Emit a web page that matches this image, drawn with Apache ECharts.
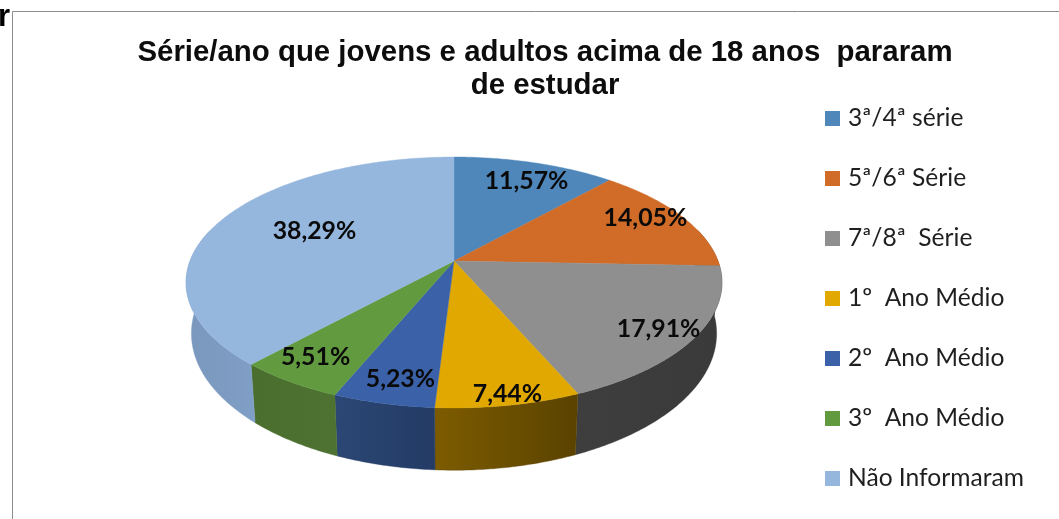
<!DOCTYPE html>
<html>
<head>
<meta charset="utf-8">
<style>html,body{margin:0;padding:0;background:#fff}#c{width:1059px;height:519px}</style>
<script src="https://cdn.jsdelivr.net/npm/echarts@6/dist/echarts.min.js"></script>
</head>
<body>
<div id="c"></div>
<script>
// ---- data ----
const categories = ['3ª/4ª série','5ª/6ª Série','7ª/8ª  Série','1º  Ano Médio','2º  Ano Médio','3º  Ano Médio','Não Informaram'];
const values = [11.57,14.05,17.91,7.44,5.23,5.51,38.29];
const titleLines = ['Série/ano que jovens e adultos acima de 18 anos  pararam','de estudar'];

// ---- styles ----
const topColors = ['#4f87ba','#d06c28','#8f8f8f','#e0a800','#3b62a8','#629a3f','#95b7de'];
const sideStart = ['#2f5170','#7d4118','#3e3e3e','#7d5c00','#2c4775','#4a6e2e','#7a97bc'];
const sideEnd   = ['#2f5170','#7d4118','#3a3a3a','#5a4200','#233b65','#4d7232','#809fc6'];
// label placement: radial fraction on the disc, plus a small nudge
const labelRadius = [0.80,0.80,0.85,0.92,0.84,0.80,0.60];
const labelNudge = [[6,1],[7,-7],[3,4],[4,2],[4,2],[-11,3],[3,-5]];

// ---- perspective disc ----
const G = {cx:454, cy:261, R:264, S:121.8, k:0.1713, sx:0.98, sy:0.09, drop:49};
function proj(theta, r){
  const X = r*Math.sin(theta), Y = r*Math.cos(theta), w = 1 + G.k*Y;
  return [G.cx + G.R*X/w, G.cy - G.S*Y/w];
}
function lower(p){
  return [G.cx + G.sx*(p[0]-G.cx), p[1] + G.drop + G.sy*(p[1]-G.cy)];
}
const total = values.reduce((a,b)=>a+b,0);
function startAngle(i){
  let s = 0;
  for(let j=0;j<i;j++) s += values[j];
  return s/total*2*Math.PI;
}
function arc(a0,a1){
  const n = Math.max(2,Math.ceil(Math.abs(a1-a0)/0.01)), pts=[];
  for(let i=0;i<=n;i++) pts.push(proj(a0+(a1-a0)*i/n,1));
  return pts;
}
const visMin = 75*Math.PI/180, visMax = 285*Math.PI/180;

function makeRender(idx){
  return function(params, api){
    const v = api.value(0);
    const a0 = startAngle(idx), a1 = a0 + v/total*2*Math.PI;
    const children = [];
    const s0 = Math.max(a0,visMin), s1 = Math.min(a1,visMax);
    if(s1 > s0){
      const upper = arc(s0,s1);
      const low = upper.map(lower).reverse();
      children.push({type:'polygon', z2:1, shape:{points:upper.concat(low)},
        style:{fill:{type:'linear',x:0,y:0,x2:1,y2:0,colorStops:[{offset:0,color:sideStart[idx]},{offset:1,color:sideEnd[idx]}]},
               stroke:sideEnd[idx], lineWidth:0.4}});
    }
    const topPts = [[G.cx,G.cy]].concat(arc(a0,a1));
    children.push({type:'polygon', z2:5, shape:{points:topPts},
      style:{fill:topColors[idx], stroke:topColors[idx], lineWidth:0.4}});
    const lp = proj((a0+a1)/2, labelRadius[idx]);
    children.push({type:'text', z2:10, x:lp[0]+labelNudge[idx][0], y:lp[1]+labelNudge[idx][1],
      style:{text:v.toFixed(2).replace('.',',')+'%', fill:'#0a0a0a',
             font:'bold 24.8px Lato, "Open Sans", sans-serif', align:'center', verticalAlign:'middle'}});
    return {type:'group', children};
  };
}

const chart = echarts.init(document.getElementById('c'), null, {renderer:'canvas'});
chart.setOption({
  animation:false,
  backgroundColor:'#ffffff',
  title:{
    text:titleLines.join('\n'), left:540, top:31, textAlign:'center',
    textStyle:{fontFamily:'"Liberation Sans", Arial, sans-serif', fontWeight:'bold', fontSize:29.4, lineHeight:33, color:'#0d0d0d'}
  },
  legend:{
    orient:'vertical', left:820, top:101, icon:'rect', itemWidth:15, itemHeight:15, itemGap:35,
    selectedMode:false, data:categories,
    textStyle:{fontFamily:'Lato, "Open Sans", sans-serif', fontSize:24.6, color:'#1f1f1f', padding:[0,0,0,3]}
  },
  series:categories.map((name,i)=>({
    type:'custom', name, coordinateSystem:'none', silent:true, clip:false,
    itemStyle:{color:topColors[i]},
    data:[[values[i]]],
    renderItem:makeRender(i)
  })),
  graphic:[
    {type:'text', x:-2, y:2, z:1, style:{text:'r', fill:'#000', font:'bold 31px "Liberation Sans", Arial, sans-serif'}},
    {type:'line', z:2, shape:{x1:12.5,y1:11.5,x2:1059,y2:11.5}, style:{stroke:'#8c8c8c',lineWidth:1}},
    {type:'line', z:2, shape:{x1:12.5,y1:11.5,x2:12.5,y2:519}, style:{stroke:'#8c8c8c',lineWidth:1}}
  ]
});
</script>
</body>
</html>
